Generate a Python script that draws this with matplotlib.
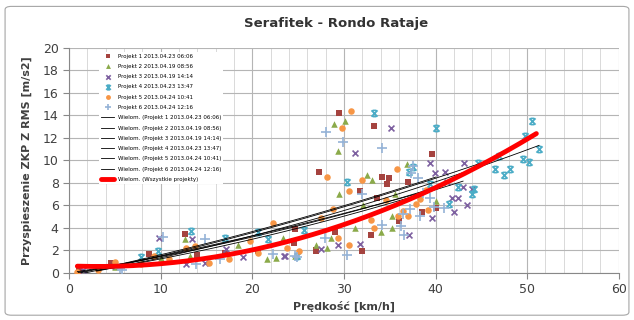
import matplotlib
matplotlib.use('Agg')
import matplotlib.pyplot as plt
import matplotlib.patches as mpatches
from matplotlib.path import Path
import numpy as np

# ── Data ─────────────────────────────────────────────────────────────────────
p1_x = [29.5, 33.3, 39.6, 27.3, 34.2, 34.9, 34.7, 37.0, 31.8, 33.6, 32.9, 32.0, 26.9,
        40.1, 27.0, 24.5, 24.7, 20.6, 12.6, 8.7, 4.6, 1.1, 29.0, 14.0, 17.0, 36.0, 38.5]
p1_y = [14.2, 13.1, 10.6, 9.0, 8.5, 8.4, 7.9, 8.1, 7.3, 6.7, 3.4, 1.95, 1.95,
        5.8, 2.0, 2.7, 3.9, 1.95, 3.45, 1.7, 0.9, 0.2, 3.6, 1.6, 1.8, 4.6, 5.4]

p2_x = [28.9, 30.1, 29.3, 36.9, 33.1, 29.5, 35.6, 32.1, 31.2, 34.0, 35.3, 35.2, 28.6,
        28.1, 26.9, 22.6, 24.7, 23.4, 40.1, 18.4, 21.6, 12.6, 13.2, 5.0, 8.0, 10.0, 32.5]
p2_y = [13.2, 13.5, 10.8, 9.7, 8.3, 7.05, 7.0, 6.0, 4.0, 3.65, 4.0, 5.1, 3.1,
        2.2, 2.5, 1.35, 1.5, 3.1, 6.4, 2.5, 1.2, 3.0, 1.5, 0.5, 1.0, 1.3, 8.7]

p3_x = [35.1, 31.2, 39.4, 43.1, 39.9, 41.0, 41.2, 43.0, 44.0, 42.4, 42.0, 43.4, 39.6,
        37.1, 31.8, 29.3, 27.5, 23.5, 9.8, 13.4, 12.8, 14.8, 17.1, 19.0, 23.6, 1.5, 5.0, 41.8]
p3_y = [12.9, 10.7, 9.8, 9.8, 8.9, 9.0, 8.1, 7.6, 7.5, 6.7, 5.4, 6.0, 4.9,
        3.4, 2.6, 2.5, 2.1, 1.5, 3.1, 3.0, 0.8, 0.9, 2.1, 1.4, 1.5, 0.3, 0.6, 6.7]

p4_x = [33.3, 40.1, 50.5, 49.8, 51.3, 50.2, 49.5, 48.1, 47.5, 46.9, 46.5, 44.6, 44.2,
        44.0, 42.4, 41.5, 30.3, 25.6, 21.7, 37.1, 39.4, 13.3, 9.7, 7.8, 17.0, 20.6, 24.9, 37.5]
p4_y = [14.2, 12.9, 13.5, 12.2, 11.0, 9.85, 10.1, 9.2, 8.7, 10.4, 9.2, 9.8, 7.5,
        7.0, 7.6, 6.1, 8.1, 3.8, 3.0, 9.0, 7.9, 3.7, 1.95, 1.4, 3.1, 3.6, 1.5, 9.4]

p5_x = [30.8, 29.8, 28.2, 32.0, 35.8, 30.5, 39.0, 34.6, 28.8, 27.5, 22.3, 33.0, 35.9,
        37.0, 37.9, 39.2, 33.3, 29.3, 30.5, 23.8, 25.1, 20.6, 19.8, 17.4, 15.3, 5.0,
        3.2, 0.9, 7.8, 9.3, 10.9, 12.8, 13.7, 36.5, 38.3]
p5_y = [14.4, 12.9, 8.5, 8.3, 9.2, 7.3, 7.4, 6.5, 5.7, 4.9, 4.45, 4.7, 5.05,
        5.05, 6.1, 5.6, 4.0, 3.1, 2.5, 2.2, 1.95, 1.8, 2.85, 1.2, 0.9, 1.0,
        0.24, 0.1, 0.8, 1.5, 1.2, 2.2, 2.4, 5.5, 6.6]

p6_x = [28.0, 29.9, 34.2, 37.5, 37.3, 38.1, 32.0, 38.6, 39.4, 39.8, 37.2, 36.4, 38.3,
        40.9, 34.2, 36.2, 36.6, 30.3, 24.7, 22.3, 27.9, 10.2, 5.8, 13.9, 5.6, 16.5, 14.8, 24.9]
p6_y = [12.5, 11.6, 11.1, 9.5, 8.9, 8.4, 7.0, 7.1, 6.7, 5.9, 5.7, 5.2, 5.05,
        5.8, 4.3, 4.2, 3.4, 1.6, 1.5, 1.65, 3.1, 3.2, 0.27, 0.8, 0.4, 1.2, 3.0, 1.4]

labels = ["Projekt 1 2013.04.23 06:06", "Projekt 2 2013.04.19 08:56",
          "Projekt 3 2013.04.19 14:14", "Projekt 4 2013.04.23 13:47",
          "Projekt 5 2013.04.24 10:41", "Projekt 6 2013.04.24 12:16"]

# polynomial trend lines (order 2): (a2, a1, a0, x_from, x_to)
trend_coef = [(0.0012, 0.17, -0.20, 1.0, 40.0),
              (0.0010, 0.15, -0.10, 1.0, 40.1),
              (0.0012, 0.17, -0.30, 1.5, 45.0),
              (0.0015, 0.15, -0.30, 3.0, 51.3),
              (0.0015, 0.13, 0.00, 0.9, 39.2),
              (0.0015, 0.13, -0.20, 3.0, 43.0)]
all_coef = (0.00515, -0.032, 0.627, 0.9, 51.0)

# ── Styles ───────────────────────────────────────────────────────────────────
COLORS = ["#A5433F", "#8BAA4A", "#7D60A0", "#4BACC6", "#F79646", "#95B3D7"]
star = Path([(-1, -1), (1, 1), (-1, 1), (1, -1), (-0.6, 1), (0.6, 1), (-0.6, -1), (0.6, -1)],
            [Path.MOVETO, Path.LINETO] * 4)
MARKERS = ["s", "^", "x", star, "o", "+"]
SIZES = [20, 22, 18, 20, 22, 45]

xs = [p1_x, p2_x, p3_x, p4_x, p5_x, p6_x]
ys = [p1_y, p2_y, p3_y, p4_y, p5_y, p6_y]

fig = plt.figure(figsize=(6.34, 3.2), dpi=100)
ax = fig.add_axes([0.109, 0.147, 0.867, 0.703])

# outer chart frame
fig.patches.append(mpatches.FancyBboxPatch((0.008, 0.015), 0.984, 0.965,
                   boxstyle="round,pad=0,rounding_size=0.01", transform=fig.transFigure,
                   facecolor="none", edgecolor="#A6A6A6", linewidth=0.8))

for x, y, c, m, s, lab in zip(xs, ys, COLORS, MARKERS, SIZES, labels):
    if m in ("x", "+") or m is star:
        ax.scatter(x, y, s=s, marker=m, color=c, linewidths=1.2, label=lab, zorder=3)
    else:
        ax.scatter(x, y, s=s, marker=m, color=c, linewidths=0, label=lab, zorder=3)

for (a2, a1, a0, x0, x1), lab in zip(trend_coef, labels):
    xx = np.linspace(x0, x1, 100)
    ax.plot(xx, a2 * xx**2 + a1 * xx + a0, color="black", lw=0.6,
            label="Wielom. (" + lab + ")", zorder=4)

a2, a1, a0, x0, x1 = all_coef
xx = np.linspace(x0, x1, 200)
ax.plot(xx, a2 * xx**2 + a1 * xx + a0, color="#FF0000", lw=3.5,
        label="Wielom. (Wszystkie projekty)", zorder=5, solid_capstyle="round")

ax.set_xlim(0, 60)
ax.set_ylim(0, 20)
ax.set_xticks(np.arange(0, 61, 10))
ax.set_yticks(np.arange(0, 21, 2))
ax.set_xticks(np.arange(0, 61, 2), minor=True)
ax.grid(True, which="major", color="#B5B5B5", lw=0.8)
ax.grid(True, which="minor", axis="x", color="#D9D9D9", lw=0.7)
ax.set_axisbelow(True)
ax.tick_params(which="major", length=4, color="#888888", labelsize=9, labelcolor="#404040")
ax.tick_params(which="minor", length=0)
for sp in ["top", "right"]:
    ax.spines[sp].set_visible(False)
for sp in ["left", "bottom"]:
    ax.spines[sp].set_color("#888888")

ax.set_xlabel("Prędkość [km/h]", fontsize=8, fontweight="bold", color="#404040", labelpad=3)
ax.set_ylabel("Przyspieszenie ZKP Z RMS [m/s2]", fontsize=8, fontweight="bold",
              color="#404040", labelpad=8)
fig.text(0.53, 0.925, "Serafitek - Rondo Rataje", ha="center", va="center",
         fontsize=9.5, fontweight="bold", color="#333333")

leg = ax.legend(loc="upper left", bbox_to_anchor=(0.05, 0.995), fontsize=4, frameon=True,
                framealpha=1, edgecolor="none", facecolor="white", labelspacing=0.95,
                handlelength=2.4, handletextpad=0.6, borderpad=0.3, markerscale=0.75,
                fancybox=False)
leg.set_zorder(6)

fig.savefig("out.png", dpi=100)
